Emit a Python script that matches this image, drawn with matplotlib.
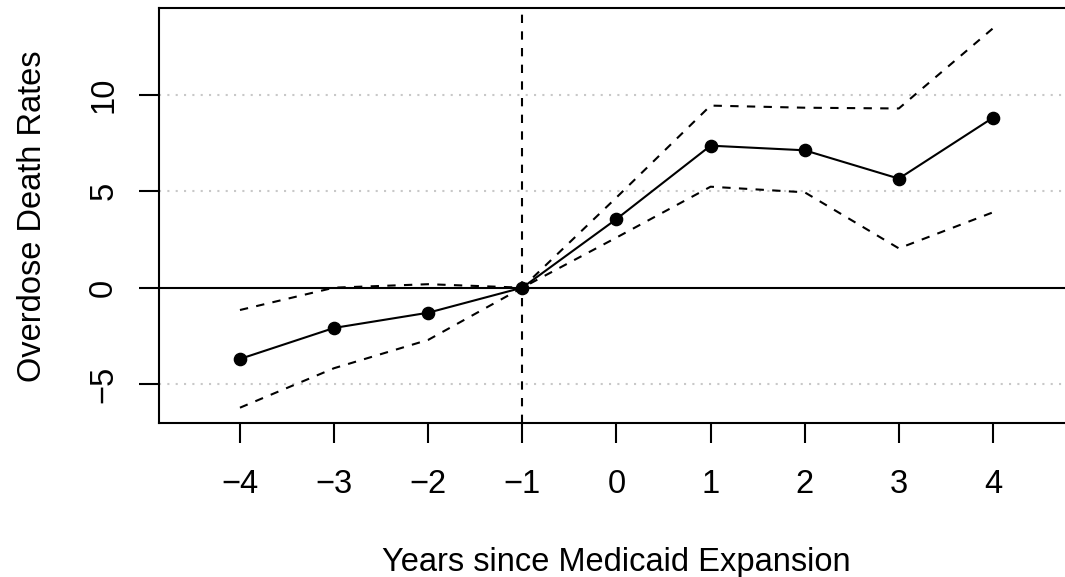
import matplotlib
matplotlib.use("Agg")
import matplotlib.pyplot as plt

plt.rcParams["font.family"] = ["Liberation Sans", "DejaVu Sans"]

# Event-study estimates: years relative to Medicaid expansion
years = [-4, -3, -2, -1, 0, 1, 2, 3, 4]
estimate = [-3.70, -2.09, -1.30, 0.0, 3.56, 7.37, 7.13, 5.66, 8.82]
ci_upper = [-1.16, 0.0, 0.18, 0.0, 4.68, 9.45, 9.34, 9.30, 13.46]
ci_lower = [-6.23, -4.18, -2.71, 0.0, 2.60, 5.24, 4.95, 2.04, 3.91]

x_tick_labels = ["\u22124", "\u22123", "\u22122", "\u22121", "0", "1", "2", "3", "4"]
y_ticks = [-5, 0, 5, 10]
y_tick_labels = ["\u22125", "0", "5", "10"]
grid_levels = [-5, 5, 10]

W, H = 1065, 577
fig = plt.figure(figsize=(W / 100, H / 100), dpi=100)
ax = fig.add_axes([159.3 / W, 153.7 / H, 914.3 / W, 415.0 / H])

ax.set_xlim(-4.857, 4.857)
ax.set_ylim(-7.04, 14.5)

lw = 1.5
fs = 23.5
# light dotted reference lines
for g in grid_levels:
    ax.axhline(g, color="#c8c8c8", lw=lw, dashes=(1, 3), dash_capstyle="butt", zorder=1)
ax.axhline(0, color="black", lw=lw, zorder=2)
ax.axvline(-1, color="black", lw=lw, dashes=(4, 4), zorder=2)

# confidence bounds
ax.plot(years, ci_upper, color="black", lw=lw, dashes=(4, 4), zorder=3)
ax.plot(years, ci_lower, color="black", lw=lw, dashes=(4, 4), zorder=3)
# point estimates
ax.plot(years, estimate, color="black", lw=lw, marker="o", markersize=8.8, zorder=4)

ax.set_xticks(years)
ax.set_xticklabels(x_tick_labels)
ax.set_yticks(y_ticks)
ax.set_yticklabels(y_tick_labels, rotation=90, va="center")

ax.tick_params(axis="both", direction="out", length=14.4, width=lw, labelsize=fs, colors="black")
ax.tick_params(axis="x", pad=18.5)
ax.tick_params(axis="y", pad=14.5)

for s in ax.spines.values():
    s.set_linewidth(lw)
    s.set_color("black")

ax.set_xlabel("Years since Medicaid Expansion", fontsize=fs)
ax.xaxis.set_label_coords(0.5, -0.298)
ax.set_ylabel("Overdose Death Rates", fontsize=fs)
ax.yaxis.set_label_coords(-0.122, 0.5)

fig.savefig("out.png", dpi=100, facecolor="white")
